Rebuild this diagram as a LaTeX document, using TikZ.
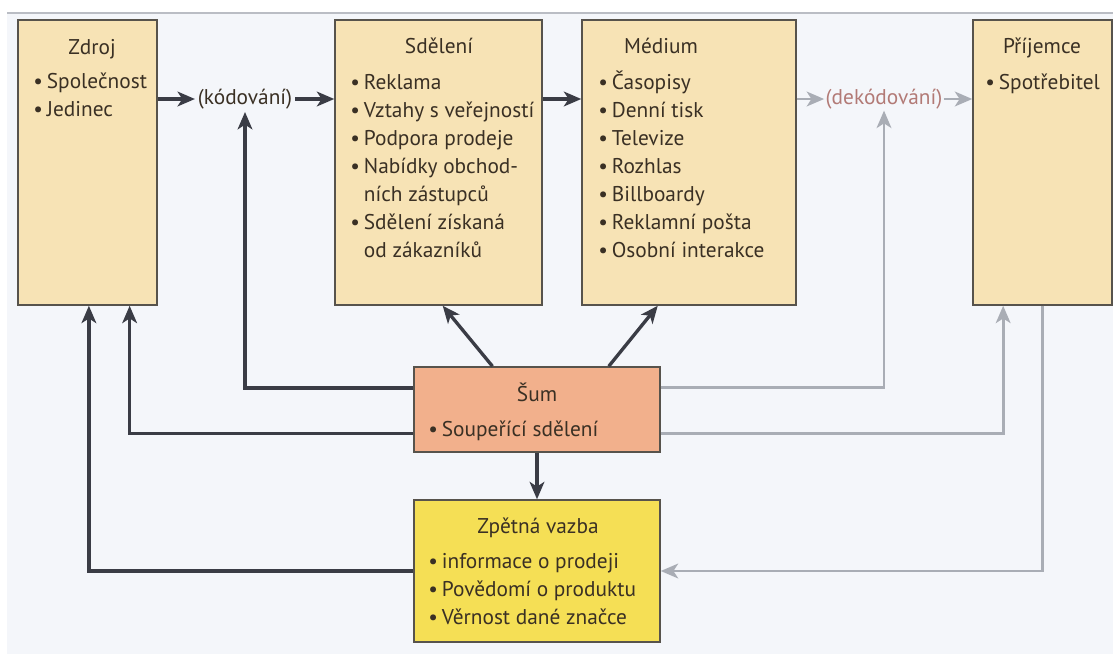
\documentclass[tikz,border=0pt]{standalone}
\usepackage{fontspec}
\setmainfont{PT Sans}
\usetikzlibrary{calc,positioning,fit,arrows.meta}

\definecolor{pozadi}{HTML}{F4F6FA}
\definecolor{bezova}{HTML}{F7E3B5}
\definecolor{lososova}{HTML}{F2B08C}
\definecolor{zluta}{HTML}{F5DF55}
\definecolor{tmava}{HTML}{3A3C45}
\definecolor{seda}{HTML}{A9ADB5}
\definecolor{okraj}{HTML}{57534C}
\definecolor{pismo}{HTML}{3A3024}
\definecolor{cervena}{HTML}{B27A76}

% odrazky v ramecku
\newcommand{\bod}[1]{\textbullet\hspace{3pt}#1}
\newcommand{\dalsi}[1]{\phantom{\textbullet}\hspace{3pt}#1}

\tikzset{
  kostka/.style={draw=okraj, line width=1.1pt, fill=#1, inner sep=0pt},
  seznam/.style={anchor=north west, align=left, inner sep=0pt},
  nadpis/.style={anchor=base, inner sep=0pt},
  tmavasipka/.style={draw=tmava, line width=2.5pt, -{Stealth[length=13pt,width=11pt,inset=3.5pt]}},
  sedasipka/.style={draw=seda, line width=2.2pt, -{Stealth[length=13pt,width=11pt,inset=3.5pt]}},
}

\begin{document}
\begin{tikzpicture}[x=0.75pt, y=-0.75pt, font=\fontsize{16}{21}\selectfont, text=pismo]

% plocha obrazku
\useasboundingbox (0,0) rectangle (1113,654);
\fill[pozadi] (7,13) rectangle (1113,654);
\draw[seda!80, line width=0.8pt] (7,13) -- (1113,13);

% ramecky
\node[kostka=bezova, fit={(18,20) (157,305)}] (zdroj) {};
\node[kostka=bezova, fit={(335,20) (542,305)}] (sdeleni) {};
\node[kostka=bezova, fit={(582,20) (796,305)}] (medium) {};
\node[kostka=bezova, fit={(973,20) (1112,305)}] (prijemce) {};
\node[kostka=lososova, fit={(414,367) (660,452)}] (sum) {};
\node[kostka=zluta, fit={(414,500) (660,642)}] (zpetna) {};

% texty v rameckach
\node[nadpis] (zdroj-n) at (92,54) {Zdroj};
\node[seznam] (zdroj-s) at (33,69) {\strut\bod{Společnost}\\ \bod{Jedinec}};

\node[nadpis] (sdeleni-n) at (439,53) {Sdělení};
\node[seznam] (sdeleni-s) at (350,70) {\strut\bod{Reklama}\\ \bod{Vztahy s veřejností}\\
  \bod{Podpora prodeje}\\ \bod{Nabídky obchod-}\\ \dalsi{ních zástupců}\\
  \bod{Sdělení získaná}\\ \dalsi{od zákazníků}};

\node[nadpis] (medium-n) at (661,53) {Médium};
\node[seznam] (medium-s) at (598,70) {\strut\bod{Časopisy}\\ \bod{Denní tisk}\\
  \bod{Televize}\\ \bod{Rozhlas}\\ \bod{Billboardy}\\ \bod{Reklamní pošta}\\
  \bod{Osobní interakce}};

\node[nadpis] (prijemce-n) at (1042,53) {Příjemce};
\node[seznam] (prijemce-s) at (985,70) {\strut\bod{Spotřebitel}};

\node[nadpis] (sum-n) at (537,401) {Šum};
\node[seznam] (sum-s) at (428,417) {\strut\bod{Soupeřící sdělení}};

\node[nadpis] (zpetna-n) at (538,533) {Zpětná vazba};
\node[seznam] (zpetna-s) at (428,549) {\strut\bod{informace o prodeji}\\
  \bod{Povědomí o produktu}\\ \bod{Věrnost dané značce}};

% kodovani a dekodovani
\node[inner sep=2pt] (kod) at (245,99) {(kódování)};
\node[inner sep=1pt, text=cervena] (dekod) at (884,99) {(dekódování)};

% pomocne body na hranach
\coordinate (sumA) at ($(sum.north west)!0.25!(sum.south west)$);
\coordinate (sumB) at ($(sum.north west)!0.78!(sum.south west)$);
\coordinate (sumC) at ($(sum.north east)!0.25!(sum.south east)$);
\coordinate (sumD) at ($(sum.north east)!0.78!(sum.south east)$);
\coordinate (zdrojA) at ($(zdroj.south west)!0.51!(zdroj.south east)$);
\coordinate (zdrojB) at ($(zdroj.south west)!0.80!(zdroj.south east)$);
\coordinate (prijemceA) at ($(prijemce.south west)!0.22!(prijemce.south east)$);

% tok sdeleni
\draw[tmavasipka] (kod.west -| zdroj.east) -- (kod.west);
\draw[tmavasipka] (kod.east) -- (kod.east -| sdeleni.west);
\draw[tmavasipka] (kod.east -| sdeleni.east) -- (kod.east -| medium.west);
\draw[sedasipka] (dekod.west -| medium.east) -- (dekod.west);
\draw[sedasipka] (dekod.east) -- (dekod.east -| prijemce.west);

% sum
\draw[tmavasipka] ($(sum.north west)!0.32!(sum.north east)$) -- ($(sdeleni.south west)!0.52!(sdeleni.south east)$);
\draw[tmavasipka] ($(sum.north west)!0.79!(sum.north east)$) -- ($(medium.south west)!0.355!(medium.south east)$);
\draw[tmavasipka] (sum.south) -- (zpetna.north);
\draw[tmavasipka] (sumA) -| (kod.south);
\draw[tmavasipka] (sumB) -| (zdrojB);
\draw[sedasipka] (sumC) -| (dekod.south);
\draw[sedasipka] (sumD) -| (prijemceA);

% zpetna vazba
\draw[tmavasipka] (zpetna.west) -| (zdrojA);
\draw[sedasipka] (prijemce.south) |- (zpetna.east);

\end{tikzpicture}
\end{document}
